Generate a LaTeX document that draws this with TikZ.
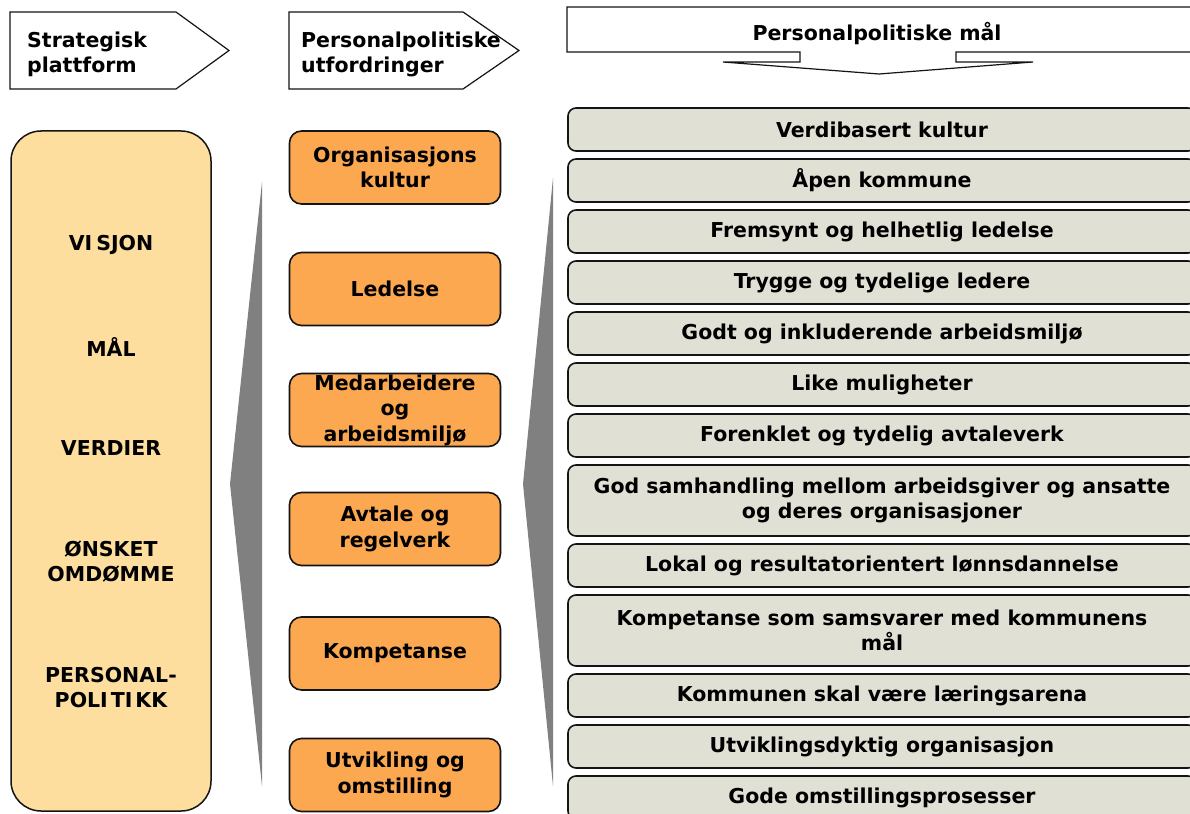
\documentclass[tikz,border=0pt]{standalone}
\usepackage{fontspec}
\setmainfont{DejaVu Sans}
\definecolor{yellowc}{HTML}{FDDE9E}
\definecolor{orangec}{HTML}{FBA851}
\definecolor{grayc}{HTML}{E0E0D5}
\definecolor{wedgec}{HTML}{808080}
\definecolor{edgec}{HTML}{141414}
\begin{document}
\begin{tikzpicture}[x=1pt,y=-1pt,
  txt/.style={font=\fontsize{20.5}{25.5}\selectfont\bfseries, text=black, align=center, inner sep=0pt},
  ybox/.style={draw=edgec, line width=1.5pt, fill=yellowc, rounded corners=30pt, minimum width=200pt, minimum height=680pt, inner sep=0pt},
  obox/.style={draw=edgec, line width=1.6pt, fill=orangec, rounded corners=12pt, minimum width=211pt, minimum height=73pt, txt},
  gbox/.style={draw=edgec, line width=1.6pt, fill=grayc, rounded corners=8pt, minimum width=628pt, minimum height=43pt, txt},
  gboxtwo/.style={gbox, minimum height=71pt},
  hdr/.style={draw=edgec, line width=1.2pt, fill=white, line join=miter},
  wedge/.style={fill=wedgec, draw=none}]
\useasboundingbox (0,0) rectangle (1190,813);
\clip (0,0) rectangle (1190,813);

% header arrows
\draw[hdr] (10,12) -- (176,12) -- (229,50.5) -- (176,89) -- (10,89) -- cycle;
\node[txt, align=left, anchor=west] (h1) at (27,54.4) {Strategisk\\plattform};
\draw[hdr] (289,12) -- (463,12) -- (519,50.5) -- (463,89) -- (289,89) -- cycle;
\node[txt, align=left, anchor=west] (h2) at (301,54.4) {Personalpolitiske\\utfordringer};
\draw[hdr] (567,7) -- (1196,7) -- (1196,52) -- (956,52) -- (956,62) -- (1033,62)
  -- (879,74) -- (723,62) -- (800,62) -- (800,52) -- (567,52) -- cycle;
\node[txt, anchor=base] (h3) at (877,41) {Personalpolitiske mål};

% wedges
\fill[wedge] (262,182) -- (230,484) -- (262,786) -- cycle;
\fill[wedge] (553,178) -- (523,484) -- (553,786) -- cycle;

% strategic platform
\node[ybox] (plat) at (111,471) {};
\node[txt] (p1) at (111,245) {VI\kern4pt SJON};
\node[txt] (p2) at (111,347) {MÅL};
\node[txt] (p3) at (111,448) {VERDIER};
\node[txt] (p4) at (111,561.5) {ØNSKET\\OMDØMME};
\node[txt] (p5) at (111,687.5) {PERSONAL-\\POLI\kern3pt TI\kern3pt KK};

% challenges
\node[obox] (o1) at (395,167.5) {Organisasjons\\kultur};
\node[obox] (o2) at (395,289) {Ledelse};
\node[obox] (o3) at (395,410) {Medarbeidere\\og\\arbeidsmiljø};
\node[obox] (o4) at (395,529) {Avtale og\\regelverk};
\node[obox] (o5) at (395,653.5) {Kompetanse};
\node[obox] (o6) at (395,775) {Utvikling og\\omstilling};

% goals
\node[gbox] (g1) at (882,129.5) {Verdibasert kultur};
\node[gbox] (g2) at (882,180.5) {Åpen kommune};
\node[gbox] (g3) at (882,231.5) {Fremsynt og helhetlig ledelse};
\node[gbox] (g4) at (882,282.5) {Trygge og tydelige ledere};
\node[gbox] (g5) at (882,333.5) {Godt og inkluderende arbeidsmiljø};
\node[gbox] (g6) at (882,384.5) {Like muligheter};
\node[gbox] (g7) at (882,435.5) {Forenklet og tydelig avtaleverk};
\node[gboxtwo] (g8) at (882,500.5) {God samhandling mellom arbeidsgiver og ansatte\\og deres organisasjoner};
\node[gbox] (g9) at (882,565.5) {Lokal og resultatorientert lønnsdannelse};
\node[gboxtwo] (g10) at (882,630.5) {Kompetanse som samsvarer med kommunens\\mål};
\node[gbox] (g11) at (882,695.5) {Kommunen skal være læringsarena};
\node[gbox] (g12) at (882,746.5) {Utviklingsdyktig organisasjon};
\node[gbox] (g13) at (882,797.5) {Gode omstillingsprosesser};
\end{tikzpicture}
\end{document}
